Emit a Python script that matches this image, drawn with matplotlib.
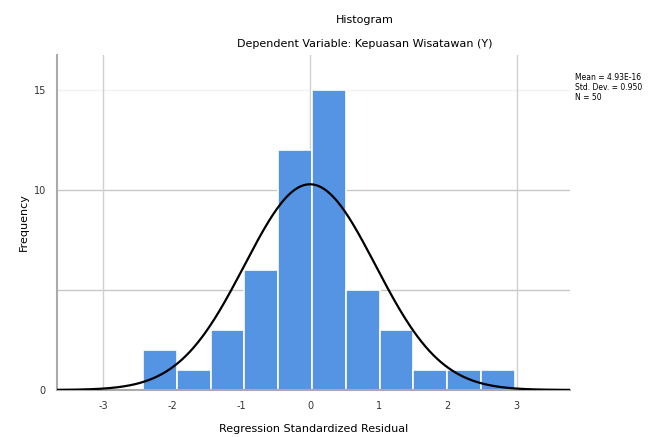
import numpy as np
import matplotlib.pyplot as plt

# histogram of regression standardized residuals
bin_edges = [-2.42, -1.93, -1.44, -0.95, -0.46, 0.03, 0.52, 1.01, 1.50, 1.99, 2.48, 2.97]
counts = [2, 1, 3, 6, 12, 15, 5, 3, 1, 1, 1]
mean = 0.0
std = 0.95
n = 50
x_ticks = [-3, -2, -1, 0, 1, 2, 3]
y_ticks = [0, 5, 10, 15]
y_labels = ["0", "", "10", "15"]

fig = plt.figure(figsize=(6.52, 4.37), dpi=100)
ax = fig.add_axes([0.0874, 0.1076, 0.7866, 0.7664])

widths = np.diff(bin_edges)
ax.bar(bin_edges[:-1], counts, width=widths, align="edge",
       color="#5593e3", edgecolor="white", linewidth=1.2, zorder=2)

xs = np.linspace(-3.7, 3.8, 400)
bw = np.mean(widths)
curve = n * bw / (std * np.sqrt(2 * np.pi)) * np.exp(-0.5 * ((xs - mean) / std) ** 2)
ax.plot(xs, curve, color="black", linewidth=1.6, zorder=3)

ax.set_xlim(-3.67, 3.77)
ax.set_ylim(0, 16.75)
ax.set_xticks(x_ticks)
ax.set_xticklabels([str(t) for t in x_ticks], fontsize=7)
ax.set_yticks(y_ticks)
ax.set_yticklabels(y_labels, fontsize=7)
ax.tick_params(length=0, pad=8, colors="#333333")

ax.axhline(5, color="#c8c8c8", linewidth=1, zorder=1)
ax.axhline(10, color="#c8c8c8", linewidth=1, zorder=1)
ax.axhline(15, color="#f2f2f2", linewidth=1, zorder=1)
for t in [-3, 0, 3]:
    ax.axvline(t, color="#d0d0d0", linewidth=1, zorder=1)

for s in ["top", "right"]:
    ax.spines[s].set_visible(False)
for s in ["left", "bottom"]:
    ax.spines[s].set_color("#aaaaaa")
    ax.spines[s].set_linewidth(1.5)

ax.set_xlabel("Regression Standardized Residual", fontsize=8, labelpad=9)
ax.set_ylabel("Frequency", fontsize=8, labelpad=3)

fig.text(0.56, 0.955, "Histogram", ha="center", va="center", fontsize=8)
fig.text(0.56, 0.90, "Dependent Variable: Kepuasan Wisatawan (Y)",
         ha="center", va="center", fontsize=8)
fig.text(0.882, 0.80, "Mean = 4.93E-16\nStd. Dev. = %.3f\nN = %d" % (std, n),
         ha="left", va="center", fontsize=5.5, linespacing=1.1)

fig.savefig("out.png", dpi=100)
